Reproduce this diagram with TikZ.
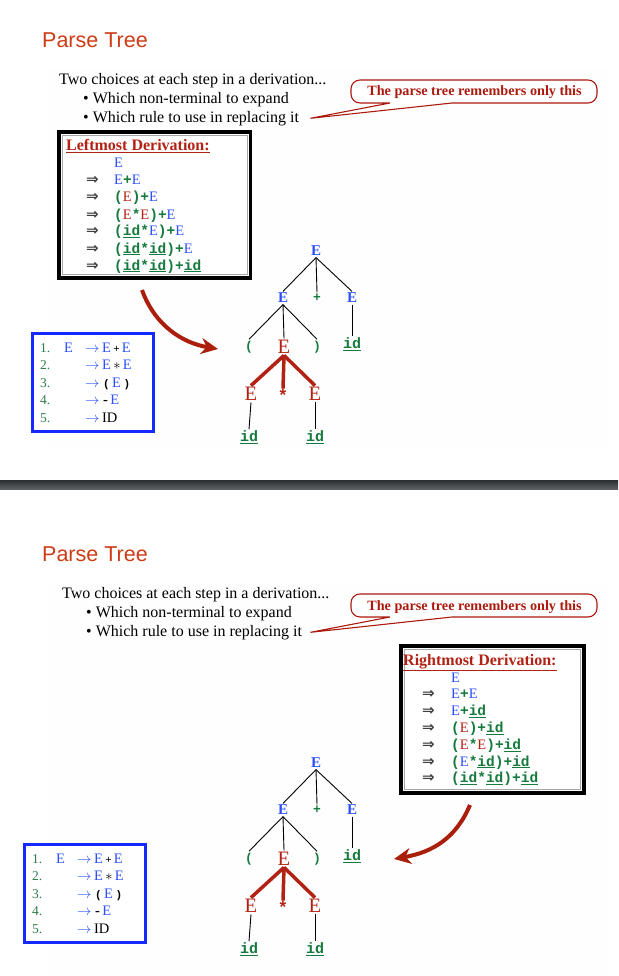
\documentclass[tikz,border=0pt]{standalone}
\usepackage{fontspec}
\setmainfont{Liberation Serif}
\setmonofont{Liberation Mono}
\newfontfamily\headfont{Liberation Sans}
\newfontfamily\symfont{DejaVu Sans}
\usetikzlibrary{arrows.meta}

\definecolor{titlered}{RGB}{206,60,22}
\definecolor{eblue}{RGB}{45,80,255}
\definecolor{ered}{RGB}{178,34,20}
\definecolor{tgreen}{RGB}{22,122,62}
\definecolor{numgreen}{RGB}{45,125,75}
\definecolor{notered}{RGB}{172,26,14}
\definecolor{boxblue}{RGB}{20,40,255}
\definecolor{arrowred}{RGB}{170,30,12}
\definecolor{panel}{RGB}{254,254,254}
\definecolor{bandtop}{RGB}{44,47,50}
\definecolor{bandbot}{RGB}{92,96,100}

\newcommand\fs[1]{\fontsize{#1}{#1}\selectfont}
\newcommand\eB{\textcolor{eblue}{E}}
\newcommand\eR{\textcolor{ered}{E}}
\newcommand\tg[1]{\textcolor{tgreen}{\ttfamily\bfseries #1}}
\newcommand\idu{\textcolor{tgreen}{\underline{\ttfamily\bfseries id}}}
\newcommand\rarr{\textcolor{eblue}{$\rightarrow$}}
\newcommand\darr{{\symfont\bfseries ⇒}}

\tikzset{
  titletext/.style={anchor=base west, inner sep=0pt, font=\headfont\fs{21.5}, text=titlered},
  bodytext/.style={anchor=base west, inner sep=0pt, font=\fs{16}},
  notetext/.style={anchor=base, inner sep=0pt, font=\fs{14.2}\bfseries, text=notered},
  balloon/.style={draw=notered, line width=1.1pt, fill=white},
  derivhead/.style={anchor=base west, inner sep=0pt, font=\fs{16}\bfseries, text=ered},
  derivrow/.style={anchor=base west, inner sep=0pt, font=\fs{14.5}},
  derivarrow/.style={anchor=base west, inner sep=0pt, font=\fs{15}, text=black!75},
  rulenum/.style={anchor=base west, inner sep=0pt, font=\fs{13.5}, text=numgreen},
  rulerow/.style={anchor=base west, inner sep=0pt, font=\fs{14.5}},
  rulebox/.style={draw=boxblue, line width=3pt, fill=white},
  eb/.style={font=\fs{15}\bfseries, text=eblue, inner sep=1.5pt},
  er/.style={font=\fs{20.5}, text=ered, inner sep=1.5pt},
  tp/.style={font=\fs{13}\ttfamily\bfseries, text=tgreen, inner sep=1.5pt},
  tid/.style={font=\fs{15}\ttfamily\bfseries, text=tgreen, inner sep=1pt},
  tstar/.style={font=\fs{17}\ttfamily\bfseries, text=ered, inner sep=0pt},
  tedge/.style={draw=black, line width=0.9pt},
  redge/.style={draw=ered, line width=3.5pt},
  bigarrow/.style={draw=arrowred, line width=4pt, -{Stealth[length=17pt,width=16pt]}}
}

% title, intro text and speech balloon of one slide
\newcommand\slidehead[2]{%
  \node[titletext] (#1title) at (42,47.7) {Parse Tree};
  \node[bodytext] (#1intro) at (59+#2,84.5) {Two choices at each step in a derivation...};
  \node[bodytext] (#1pointA) at (83+#2,103.5) {\textbullet\ Which non-terminal to expand};
  \node[bodytext] (#1pointB) at (83+#2,122.5) {\textbullet\ Which rule to use in replacing it};
  \draw[balloon] (310.5,118.3) -- (390,103) [rounded corners=9] -- (351,103) -- (351,80)
     -- (597,80) -- (597,103) [sharp corners] -- (452,103) -- cycle;
  \node[notetext] (#1note) at (474.5,96) {The parse tree remembers only this};
}

% numbered grammar rules in a blue frame
\newcommand\grammarbox[1]{%
  \draw[rulebox] (32,333) rectangle (153,431);
  \node[rulenum] (#1n1) at (40,352) {1.};
  \node[rulenum] (#1n2) at (40,369.5) {2.};
  \node[rulenum] (#1n3) at (40,387) {3.};
  \node[rulenum] (#1n4) at (40,404.5) {4.};
  \node[rulenum] (#1n5) at (40,422) {5.};
  \node[rulerow] (#1lhs) at (64,352) {\eB};
  \node[rulerow] (#1r1) at (85,352) {\rarr\,\eB\,{\fs{11}\bfseries +}\,\eB};
  \node[rulerow] (#1r2) at (85,369.5) {\rarr\,\eB\,$\ast$\,\eB};
  \node[rulerow] (#1r3) at (85,387) {\rarr\ {\fs{11}\ttfamily\bfseries (}\,\eB\,{\fs{11}\ttfamily\bfseries )}};
  \node[rulerow] (#1r4) at (85,404.5) {\rarr\ {\bfseries -}\,\eB};
  \node[rulerow] (#1r5) at (85,422) {\rarr\,ID};
}

% parse tree of (id*id)+id
\newcommand\parsetree[1]{%
  \node[eb] (#1r) at (316,251) {E};
  \node[eb] (#1a) at (283,298) {E};
  \node[tp] (#1p) at (317,298) {+};
  \node[eb] (#1b) at (352,298) {E};
  \node[tp] (#1l) at (249,347) {(};
  \node[er] (#1c) at (284,347) {E};
  \node[tp] (#1q) at (317,347) {)};
  \node[tid] (#1bi) at (352,344) {\underline{id}};
  \node[er] (#1c1) at (251,394) {E};
  \node[tstar] (#1cs) at (283,395) {*};
  \node[er] (#1c3) at (315,394) {E};
  \node[tid] (#1i1) at (249,437) {\underline{id}};
  \node[tid] (#1i3) at (315,437) {\underline{id}};
  \draw[tedge] (#1r.south) -- (#1a.north);
  \draw[tedge] (#1r.south) -- (#1p.north);
  \draw[tedge] (#1r.south) -- (#1b.north);
  \draw[tedge] (#1a.south) -- (#1l.north);
  \draw[tedge] (#1a.south) -- (#1c.north);
  \draw[tedge] (#1a.south) -- (#1q.north);
  \draw[tedge] (#1b.south) -- (#1bi.north);
  \draw[redge] (#1c.south) -- (#1c1.north);
  \draw[redge] (#1c.south) -- (#1cs.north);
  \draw[redge] (#1c.south) -- (#1c3.north);
  \draw[tedge] (#1c1.south) -- (#1i1.north);
  \draw[tedge] (#1c3.south) -- (#1i3.north);
}

\begin{document}
\begin{tikzpicture}[x=1pt,y=-1pt]
\useasboundingbox (0,0) rectangle (618,976);
\fill[white] (0,0) rectangle (618,976);
\fill[panel] (46,68) rectangle (610,446);
\fill[panel] (50,582) rectangle (610,976);
\shade[top color=bandtop, bottom color=bandbot] (0,480) rectangle (618,489);

% ---------- upper slide: leftmost derivation ----------
\slidehead{u}{0}

\draw[line width=3.5pt, fill=white] (59,132) rectangle (250.5,278);
\draw[gray!70, line width=0.8pt] (62.5,135.5) rectangle (247,274.5);
\node[derivhead] (lhead) at (66,151) {\underline{Leftmost Derivation:}};
\node[derivrow] (ld0) at (114,168) {\eB};
\node[derivarrow] (la1) at (86,185) {\darr};
\node[derivrow] (ld1) at (114,185) {\eB\tg{+}\eB};
\node[derivarrow] (la2) at (86,202) {\darr};
\node[derivrow] (ld2) at (114,202) {\tg{(}\eR\tg{)+}\eB};
\node[derivarrow] (la3) at (86,219) {\darr};
\node[derivrow] (ld3) at (114,219) {\tg{(}\eR\tg{*}\eR\tg{)+}\eB};
\node[derivarrow] (la4) at (86,236) {\darr};
\node[derivrow] (ld4) at (114,236) {\tg{(}\idu\tg{*}\eB\tg{)+}\eB};
\node[derivarrow] (la5) at (86,253) {\darr};
\node[derivrow] (ld5) at (114,253) {\tg{(}\idu\tg{*}\idu\tg{)+}\eB};
\node[derivarrow] (la6) at (86,270) {\darr};
\node[derivrow] (ld6) at (114,270) {\tg{(}\idu\tg{*}\idu\tg{)+}\idu};

\grammarbox{ug}
\parsetree{ut}

\coordinate (ubendA) at (142,290);
\coordinate (ubendB) at (218,349);
\draw[bigarrow] (ubendA) .. controls (155,326) and (183,343) .. (ubendB);

% ---------- lower slide: rightmost derivation ----------
\begin{scope}[shift={(0,514)}]
  \slidehead{d}{3}
\end{scope}

\draw[line width=3.5pt, fill=white] (401,646) rectangle (584,793);
\draw[gray!70, line width=0.8pt] (404.5,649.5) rectangle (580.5,789.5);
\node[derivhead] (rhead) at (403,665) {\underline{Rightmost Derivation:}};
\node[derivrow] (rd0) at (451,682) {\eB};
\node[derivarrow] (ra1) at (422,698.8) {\darr};
\node[derivrow] (rd1) at (451,698.8) {\eB\tg{+}\eB};
\node[derivarrow] (ra2) at (422,715.6) {\darr};
\node[derivrow] (rd2) at (451,715.6) {\eB\tg{+}\idu};
\node[derivarrow] (ra3) at (422,732.4) {\darr};
\node[derivrow] (rd3) at (451,732.4) {\tg{(}\eR\tg{)+}\idu};
\node[derivarrow] (ra4) at (422,749.2) {\darr};
\node[derivrow] (rd4) at (451,749.2) {\tg{(}\eR\tg{*}\eR\tg{)+}\idu};
\node[derivarrow] (ra5) at (422,766) {\darr};
\node[derivrow] (rd5) at (451,766) {\tg{(}\eB\tg{*}\idu\tg{)+}\idu};
\node[derivarrow] (ra6) at (422,782.8) {\darr};
\node[derivrow] (rd6) at (451,782.8) {\tg{(}\idu\tg{*}\idu\tg{)+}\idu};

\begin{scope}[shift={(-8,511)}]
  \grammarbox{dg}
\end{scope}
\begin{scope}[shift={(0,512)}]
  \parsetree{dt}
\end{scope}

\coordinate (dbendA) at (470,805);
\coordinate (dbendB) at (394,859);
\draw[bigarrow] (dbendA) .. controls (456,838) and (433,852) .. (dbendB);
\end{tikzpicture}
\end{document}
